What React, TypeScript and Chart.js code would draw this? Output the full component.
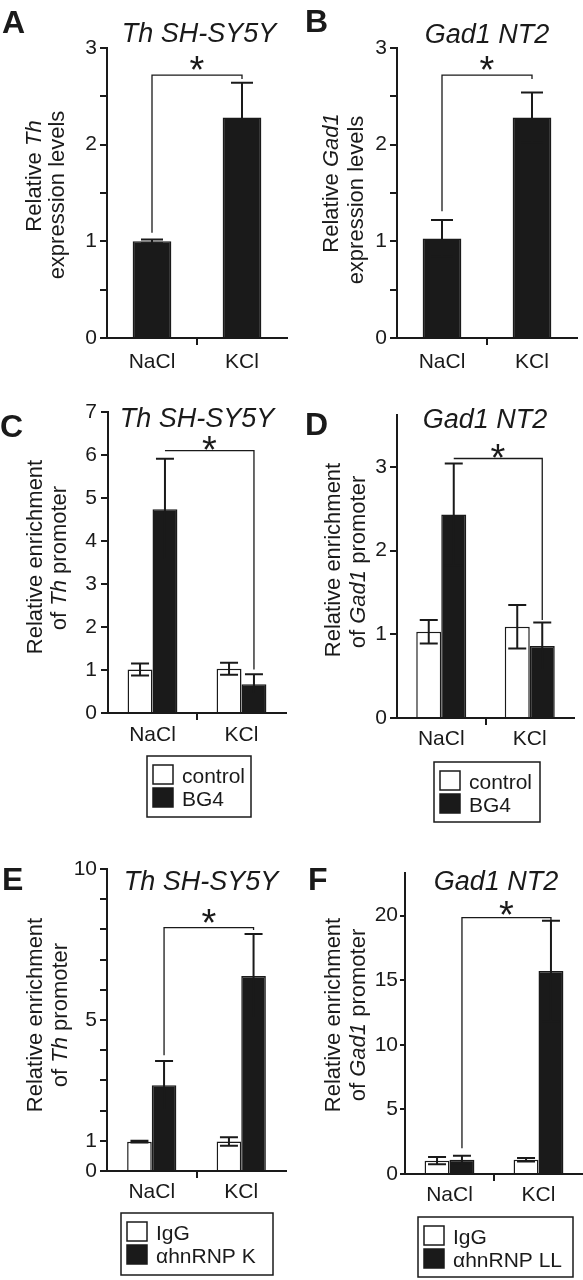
import React, { useEffect, useRef } from 'react';
import { Chart, registerables } from 'chart.js';

Chart.register(...registerables);

const FONT = "'Liberation Sans', Arial, Helvetica, sans-serif";
const INK = '#1a1a1a';
const WHITE = '#ffffff';

// ---------------- data ----------------
const categories = ['NaCl', 'KCl'];

// A: Th SH-SY5Y expression
const thExprMeans = [1.0, 2.28];
const thExprErrs = [0.02, 0.36];
// B: Gad1 NT2 expression
const gadExprMeans = [1.03, 2.28];
const gadExprErrs = [0.19, 0.26];
// C: Th SH-SY5Y, BG4 ChIP
const thControl = [1.01, 1.03];
const thControlErr = [0.14, 0.14];
const thBG4 = [4.74, 0.67];
const thBG4Err = [1.17, 0.23];
// D: Gad1 NT2, BG4 ChIP
const gadControl = [1.03, 1.09];
const gadControlErr = [0.14, 0.26];
const gadBG4 = [2.43, 0.86];
const gadBG4Err = [0.61, 0.28];
// E: Th SH-SY5Y, hnRNP K ChIP
const thIgG = [0.97, 0.98];
const thIgGErr = [0.03, 0.14];
const thHnrnpK = [2.84, 6.46];
const thHnrnpKErr = [0.8, 1.39];
// F: Gad1 NT2, hnRNP LL ChIP
const gadIgG = [1.03, 1.1];
const gadIgGErr = [0.28, 0.14];
const gadHnrnpLL = [1.11, 15.72];
const gadHnrnpLLErr = [0.31, 3.89];

// tick labels
const ticksAB = [0, 1, 2, 3];
const ticksC = [0, 1, 2, 3, 4, 5, 6, 7];
const ticksD = [0, 1, 2, 3];
const ticksE = [0, 1, 5, 10];
const ticksF = [0, 5, 10, 15, 20];

// significance brackets (values in data units)
const bracketA = { start: 1.09, top: 2.72, end: 2.68 };
const bracketB = { start: 1.31, top: 2.72, end: 2.68 };
const bracketC = { start: 6.1, top: 6.1, end: 1.01 };
const bracketD = { start: 3.1, top: 3.1, end: 1.17 };
const bracketE = { start: 3.83, top: 8.06, end: 7.98 };
const bracketF = { start: 2.0, top: 19.85, end: 19.6 };

// ---------------- layout ----------------
type Seg = { t: string; i?: boolean };
type DS = { label: string; data: number[]; err: number[]; fill: string };
type Panel = {
  key: string;
  box: [number, number, number, number];
  area: [number, number, number, number];
  yMax: number;
  yStep: number;
  labelled: number[];
  datasets: DS[];
  barPct: number;
  catPct: number;
  cap: number;
  letter: { t: string; x: number; y: number };
  title: { t: string; x: number; y: number };
  ylab: { segs: Seg[]; x: number; y: number }[];
  bracket: { from: [number, number]; to: [number, number]; start: number; top: number; end: number; starOff: number };
  legend?: [number, number, number, number];
  xPad: number;
  yTick: number;
  yPad: number;
};

const X_H = 40;
const TICK_SIZE = 21;
const YLAB_SIZE = 22;

const panels: Panel[] = [
  {
    key: 'A', box: [0, 0, 290, 380], area: [107, 48, 287, 338],
    yMax: 3, yStep: 0.5, labelled: ticksAB,
    datasets: [{ label: 'expression', data: thExprMeans, err: thExprErrs, fill: INK }],
    barPct: 0.43, catPct: 1, cap: 22,
    letter: { t: 'A', x: 2, y: 33 },
    title: { t: 'Th SH-SY5Y', x: 199, y: 42 },
    ylab: [
      { segs: [{ t: 'Relative ' }, { t: 'Th', i: true }], x: 41, y: 176 },
      { segs: [{ t: 'expression levels' }], x: 64, y: 195 },
    ],
    bracket: { from: [0, 0], to: [0, 1], ...bracketA, starOff: 12 },
    xPad: 5, yTick: 7, yPad: 3,
  },
  {
    key: 'B', box: [290, 0, 293, 380], area: [397, 48, 577, 338],
    yMax: 3, yStep: 0.5, labelled: ticksAB,
    datasets: [{ label: 'expression', data: gadExprMeans, err: gadExprErrs, fill: INK }],
    barPct: 0.43, catPct: 1, cap: 22,
    letter: { t: 'B', x: 305, y: 32 },
    title: { t: 'Gad1 NT2', x: 487, y: 43 },
    ylab: [
      { segs: [{ t: 'Relative ' }, { t: 'Gad1', i: true }], x: 338, y: 183 },
      { segs: [{ t: 'expression levels' }], x: 363, y: 200 },
    ],
    bracket: { from: [0, 0], to: [0, 1], ...bracketB, starOff: 12 },
    xPad: 5, yTick: 7, yPad: 3,
  },
  {
    key: 'C', box: [0, 380, 290, 450], area: [108, 412, 286, 713],
    yMax: 7, yStep: 1, labelled: ticksC,
    datasets: [
      { label: 'control', data: thControl, err: thControlErr, fill: WHITE },
      { label: 'BG4', data: thBG4, err: thBG4Err, fill: INK },
    ],
    barPct: 1, catPct: 0.56, cap: 18,
    letter: { t: 'C', x: 0, y: 437 },
    title: { t: 'Th SH-SY5Y', x: 197, y: 427 },
    ylab: [
      { segs: [{ t: 'Relative enrichment' }], x: 42, y: 557 },
      { segs: [{ t: 'of ' }, { t: 'Th', i: true }, { t: ' promoter' }], x: 66, y: 558 },
    ],
    bracket: { from: [1, 0], to: [1, 1], ...bracketC, starOff: 8 },
    legend: [147, 756, 104, 61],
    xPad: 3, yTick: 7, yPad: 4,
  },
  {
    key: 'D', box: [290, 380, 293, 450], area: [397, 415, 574, 718],
    yMax: 3.62, yStep: 1, labelled: ticksD,
    datasets: [
      { label: 'control', data: gadControl, err: gadControlErr, fill: WHITE },
      { label: 'BG4', data: gadBG4, err: gadBG4Err, fill: INK },
    ],
    barPct: 1, catPct: 0.565, cap: 18,
    letter: { t: 'D', x: 305, y: 435 },
    title: { t: 'Gad1 NT2', x: 485, y: 428 },
    ylab: [
      { segs: [{ t: 'Relative enrichment' }], x: 340, y: 560 },
      { segs: [{ t: 'of ' }, { t: 'Gad1', i: true }, { t: ' promoter' }], x: 365, y: 562 },
    ],
    bracket: { from: [1, 0], to: [1, 1], ...bracketD, starOff: 8 },
    legend: [434, 762, 106, 60],
    xPad: 2, yTick: 7, yPad: 3,
  },
  {
    key: 'E', box: [0, 830, 290, 450], area: [107, 869, 286, 1171],
    yMax: 10, yStep: 1, labelled: ticksE,
    datasets: [
      { label: 'IgG', data: thIgG, err: thIgGErr, fill: WHITE },
      { label: 'αhnRNP K', data: thHnrnpK, err: thHnrnpKErr, fill: INK },
    ],
    barPct: 1, catPct: 0.55, cap: 18,
    letter: { t: 'E', x: 2, y: 890 },
    title: { t: 'Th SH-SY5Y', x: 201, y: 890 },
    ylab: [
      { segs: [{ t: 'Relative enrichment' }], x: 42, y: 1015 },
      { segs: [{ t: 'of ' }, { t: 'Th', i: true }, { t: ' promoter' }], x: 67, y: 1015 },
    ],
    bracket: { from: [1, 0], to: [1, 1], ...bracketE, starOff: 12 },
    legend: [121, 1213, 152, 62],
    xPad: 2, yTick: 7, yPad: 3,
  },
  {
    key: 'F', box: [290, 830, 293, 450], area: [405, 873, 583, 1174],
    yMax: 23.3, yStep: 5, labelled: ticksF,
    datasets: [
      { label: 'IgG', data: gadIgG, err: gadIgGErr, fill: WHITE },
      { label: 'αhnRNP LL', data: gadHnrnpLL, err: gadHnrnpLLErr, fill: INK },
    ],
    barPct: 1, catPct: 0.56, cap: 18,
    letter: { t: 'F', x: 308, y: 890 },
    title: { t: 'Gad1 NT2', x: 496, y: 890 },
    ylab: [
      { segs: [{ t: 'Relative enrichment' }], x: 340, y: 1015 },
      { segs: [{ t: 'of ' }, { t: 'Gad1', i: true }, { t: ' promoter' }], x: 365, y: 1015 },
    ],
    bracket: { from: [1, 0], to: [1, 1], ...bracketF, starOff: 10 },
    legend: [418, 1217, 155, 60],
    xPad: 2, yTick: 5, yPad: 2,
  },
];

// ---------------- drawing helpers ----------------
function drawSegs(
  ctx: CanvasRenderingContext2D, segs: Seg[], size: number, x: number, y: number,
  align: 'center' | 'left', rotate: boolean, bold = false,
) {
  ctx.save();
  ctx.translate(x, y);
  if (rotate) ctx.rotate(-Math.PI / 2);
  const fonts = segs.map((s) => `${s.i ? 'italic ' : ''}${bold ? 'bold ' : ''}${size}px ${FONT}`);
  let total = 0;
  const ws = segs.map((s, k) => {
    ctx.font = fonts[k];
    const w = ctx.measureText(s.t).width;
    total += w;
    return w;
  });
  let cx = align === 'center' ? -total / 2 : 0;
  ctx.textAlign = 'left';
  ctx.textBaseline = 'alphabetic';
  ctx.fillStyle = INK;
  segs.forEach((s, k) => {
    ctx.font = fonts[k];
    ctx.fillText(s.t, cx, 0);
    cx += ws[k];
  });
  ctx.restore();
}

function makeDecor(p: Panel) {
  return {
    id: 'decor' + p.key,
    afterDraw(chart: any) {
      const ctx: CanvasRenderingContext2D = chart.ctx;
      const ox = p.box[0];
      const oy = p.box[1];
      const ys = chart.scales.y;
      ctx.save();
      // error bars
      ctx.strokeStyle = INK;
      ctx.lineWidth = 2;
      p.datasets.forEach((ds, di) => {
        const meta = chart.getDatasetMeta(di);
        meta.data.forEach((el: any, j: number) => {
          const v = ds.data[j];
          const e = ds.err[j];
          const yT = ys.getPixelForValue(v + e);
          const yB = ys.getPixelForValue(Math.max(0, v - e));
          const h = p.cap / 2;
          ctx.beginPath();
          ctx.moveTo(el.x, yB);
          ctx.lineTo(el.x, yT);
          ctx.moveTo(el.x - h, yT);
          ctx.lineTo(el.x + h, yT);
          ctx.moveTo(el.x - h, yB);
          ctx.lineTo(el.x + h, yB);
          ctx.stroke();
        });
      });
      // significance bracket
      const b = p.bracket;
      const x1 = chart.getDatasetMeta(b.from[0]).data[b.from[1]].x;
      const x2 = chart.getDatasetMeta(b.to[0]).data[b.to[1]].x;
      const yS = ys.getPixelForValue(b.start);
      const yTop = ys.getPixelForValue(b.top);
      const yE = ys.getPixelForValue(b.end);
      ctx.lineWidth = 1.3;
      ctx.beginPath();
      ctx.moveTo(x1, yS);
      ctx.lineTo(x1, yTop);
      ctx.lineTo(x2, yTop);
      ctx.lineTo(x2, yE);
      ctx.stroke();
      // star
      ctx.font = `38px ${FONT}`;
      ctx.textAlign = 'center';
      ctx.textBaseline = 'alphabetic';
      ctx.fillStyle = INK;
      const m = ctx.measureText('*');
      const cy = yTop - b.starOff;
      const base = cy + (m.actualBoundingBoxAscent - m.actualBoundingBoxDescent) / 2;
      ctx.fillText('*', (x1 + x2) / 2, base);
      ctx.restore();

      // letter, title, y label
      drawSegs(ctx, [{ t: p.letter.t }], 32, p.letter.x - ox, p.letter.y - oy, 'left', false, true);
      drawSegs(ctx, [{ t: p.title.t, i: true }], 27, p.title.x - ox, p.title.y - oy, 'center', false);
      p.ylab.forEach((l) => drawSegs(ctx, l.segs, YLAB_SIZE, l.x - ox, l.y - oy, 'center', true));

      // legend
      if (p.legend) {
        const [lx0, ly0, lw, lh] = p.legend;
        const lx = lx0 - ox;
        const ly = ly0 - oy;
        ctx.save();
        ctx.strokeStyle = INK;
        ctx.lineWidth = 1.5;
        ctx.strokeRect(lx, ly, lw, lh);
        chart.data.datasets.forEach((ds: any, k: number) => {
          const sx = lx + 6;
          const sy = ly + 9 + k * 23;
          ctx.fillStyle = ds.backgroundColor;
          ctx.fillRect(sx, sy, 20, 19);
          ctx.strokeRect(sx, sy, 20, 19);
          ctx.fillStyle = INK;
          ctx.font = `21px ${FONT}`;
          ctx.textAlign = 'left';
          ctx.textBaseline = 'alphabetic';
          ctx.fillText(ds.label, sx + 29, sy + 18);
        });
        ctx.restore();
      }
    },
  };
}

function buildConfig(p: Panel): any {
  const [bx, by, bw, bh] = p.box;
  const [al, at, ar, ab] = p.area;
  return {
    type: 'bar',
    data: {
      labels: categories,
      datasets: p.datasets.map((d) => ({
        label: d.label,
        data: d.data,
        backgroundColor: d.fill,
        borderColor: INK,
        borderWidth: 1.5,
        borderSkipped: 'bottom',
        barPercentage: p.barPct,
        categoryPercentage: p.catPct,
      })),
    },
    options: {
      responsive: false,
      animation: false,
      devicePixelRatio: 1,
      layout: {
        padding: { left: 0, top: at - by, right: bx + bw - ar, bottom: by + bh - ab - X_H },
      },
      plugins: { legend: { display: false }, tooltip: { enabled: false }, title: { display: false } },
      scales: {
        x: {
          type: 'category',
          offset: true,
          grid: {
            offset: true,
            drawOnChartArea: false,
            color: (c: any) => (c.index === 1 ? INK : 'rgba(0,0,0,0)'),
            lineWidth: 2,
            tickLength: 7,
          },
          border: { color: INK, width: 2 },
          ticks: { color: INK, font: { size: TICK_SIZE, family: FONT }, padding: p.xPad, maxRotation: 0 },
          afterFit: (s: any) => { s.height = X_H; },
        },
        y: {
          type: 'linear',
          min: 0,
          max: p.yMax,
          grid: { drawOnChartArea: false, color: INK, lineWidth: 2, tickLength: p.yTick },
          border: { color: INK, width: 2 },
          ticks: {
            stepSize: p.yStep,
            includeBounds: false,
            autoSkip: false,
            color: INK,
            font: { size: TICK_SIZE, family: FONT },
            padding: p.yPad,
            callback: (v: number) => (p.labelled.includes(v) ? String(v) : ''),
          },
          afterFit: (s: any) => { s.width = al - bx; },
        },
      },
    },
    plugins: [makeDecor(p)],
  };
}

function PanelChart({ p }: { p: Panel }) {
  const ref = useRef<HTMLCanvasElement>(null);
  useEffect(() => {
    const chart = new Chart(ref.current as HTMLCanvasElement, buildConfig(p));
    return () => chart.destroy();
  }, [p]);
  return (
    <canvas
      ref={ref}
      width={p.box[2]}
      height={p.box[3]}
      style={{ position: 'absolute', left: p.box[0], top: p.box[1], width: p.box[2], height: p.box[3] }}
    />
  );
}

export default function App() {
  return (
    <div style={{ position: 'absolute', left: 0, top: 0, width: 583, height: 1280, background: '#fff', overflow: 'hidden' }}>
      {panels.map((p) => (
        <PanelChart key={p.key} p={p} />
      ))}
    </div>
  );
}
